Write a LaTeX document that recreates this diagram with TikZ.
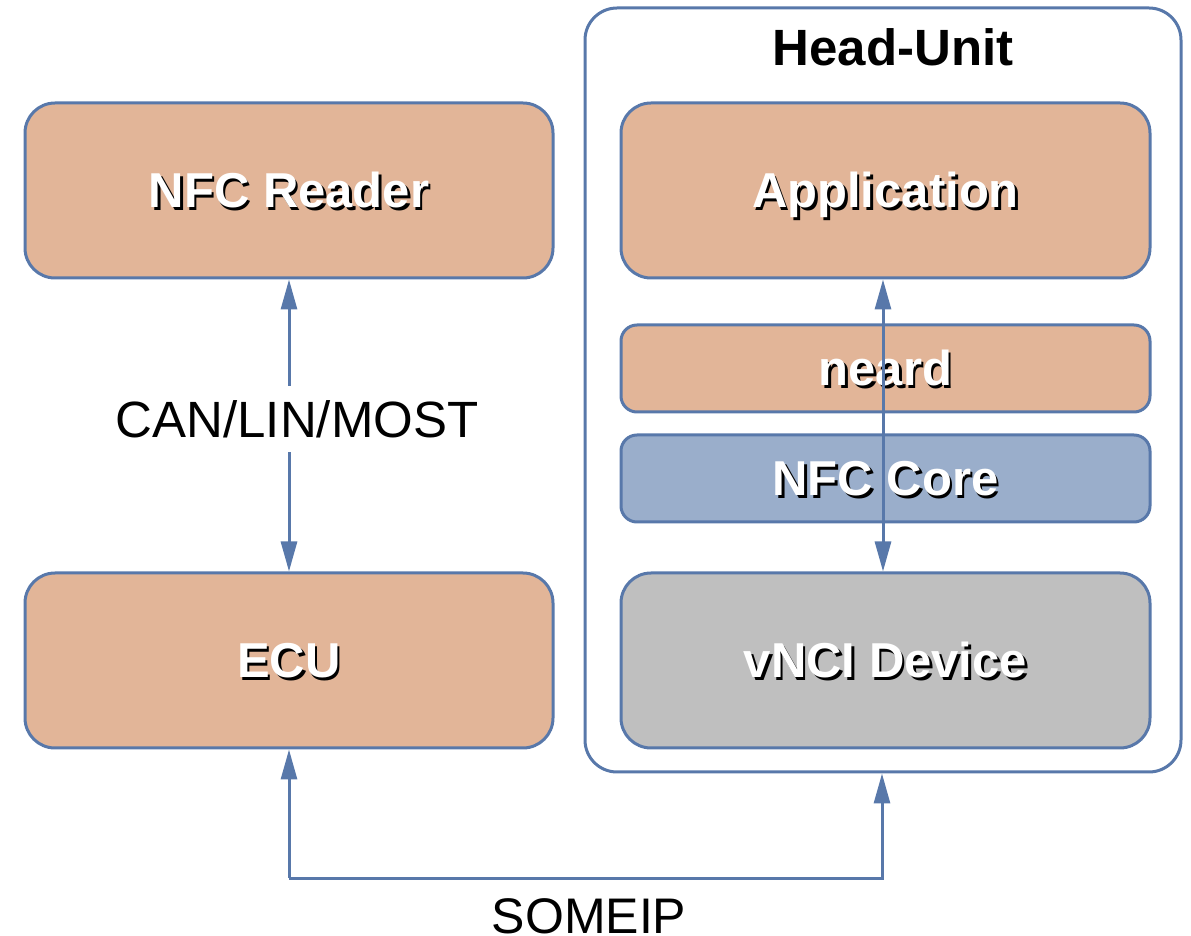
\documentclass[tikz,border=0pt]{standalone}
\usepackage{fontspec}
\setmainfont{Liberation Sans}
\usetikzlibrary{arrows.meta}

\definecolor{edgeblue}{HTML}{5878AA}
\definecolor{peach}{HTML}{E2B598}
\definecolor{coreblue}{HTML}{9AAECB}
\definecolor{devgray}{HTML}{BFBFBF}

% white bold caption with a dark drop shadow
\newcommand\shadowcap[1]{\rlap{\kern1.3pt\raisebox{-1.3pt}{\textcolor{black}{#1}}}\textcolor{white}{#1}}

\tikzset{
  block/.style={draw=edgeblue, line width=1.5pt, rounded corners=15pt,
    minimum width=264pt, minimum height=87.5pt, inner sep=0pt,
    text height=17.5pt, text depth=0pt,
    font=\bfseries\fontsize{24.5}{28}\selectfont},
  slab/.style={block, rounded corners=8pt, minimum height=43.5pt},
  link/.style={draw=edgeblue, line width=1.5pt,
    arrows={Triangle[length=15pt,width=8pt]-Triangle[length=15pt,width=8pt]}},
  uplink/.style={draw=edgeblue, line width=1.5pt, line join=miter,
    -{Triangle[length=15pt,width=8pt]}},
  plain/.style={font=\fontsize{25.5}{30}\selectfont, inner sep=0pt}
}

\begin{document}
\begin{tikzpicture}[x=0.5pt, y=-0.5pt]
  \useasboundingbox (0,0) rectangle (1191,936);

  % Head-Unit enclosure
  \node[draw=edgeblue, line width=1.5pt, rounded corners=16pt,
        minimum width=298pt, minimum height=382pt, inner sep=0pt]
        (head) at (883,390) {};
  \node[font=\bfseries\fontsize{25.5}{30}\selectfont, anchor=base]
        (headtitle) at (893,66) {Head-Unit};

  % left column
  \node[block, fill=peach] (reader) at (289,190.5) {\shadowcap{NFC Reader}};
  \node[block, fill=peach] (ecu)    at (289,660.5) {\shadowcap{ECU}};

  % Head-Unit stack
  \node[block, fill=peach, minimum width=264.5pt] (app)   at (885.5,190.5) {\shadowcap{Application}};
  \node[slab,  fill=peach, minimum width=264.5pt] (neard) at (885.5,368.5) {\shadowcap{neard}};
  \node[slab,  fill=coreblue, minimum width=264.5pt] (core) at (885.5,478.5) {\shadowcap{NFC Core}};
  \node[block, fill=devgray, minimum width=264.5pt] (vnci) at (885.5,660.5) {\shadowcap{vNCI Device}};

  % CAN/LIN/MOST bus
  \path[link] (reader.south) -- (ecu.north);
  \node[plain, fill=white, inner xsep=4pt, inner ysep=7pt] (bus) at (297,419) {CAN/LIN/MOST};

  % Application to vNCI device
  \path[link] ([xshift=-1.25pt]app.south) -- ([xshift=-1.25pt]vnci.north);

  % SOMEIP link
  \coordinate (sl) at (289,878);
  \coordinate (sr) at (882,878);
  \path[uplink] (sl) -- (ecu.south);
  \path[uplink] (sl) -- (sr) -- (sr |- head.south);
  \node[plain, font=\fontsize{25}{30}\selectfont, anchor=base] (someip) at (589,933) {SOMEIP};
\end{tikzpicture}
\end{document}
